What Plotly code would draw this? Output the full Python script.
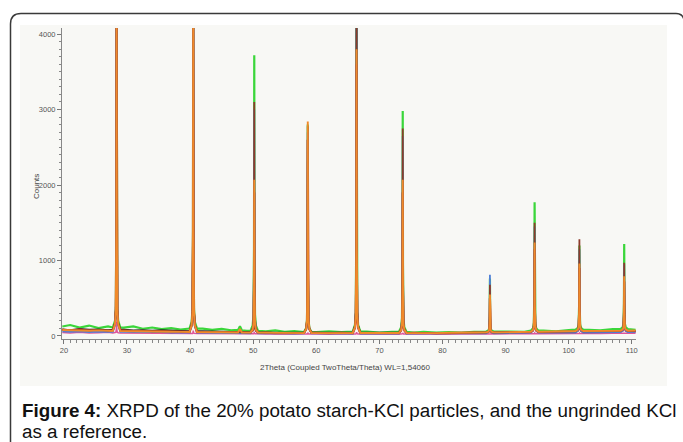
import plotly.graph_objects as go

# ---------------- data ----------------
peak_x = [28.35, 40.5, 50.17, 58.65, 66.38, 73.7, 87.52, 94.6, 101.7, 108.8]

base_x = [19.75, 21, 22.5, 24, 25.5, 27, 29.5, 31, 32.5, 34, 35.5, 37, 38.5, 42, 43.5,
          45, 46.5, 47.6, 47.9, 48.2, 49, 52, 53.5, 55, 56.5, 60, 62, 64, 68, 70, 72, 75.5, 77,
          79, 81, 83, 85, 89, 91, 93, 96, 98, 100, 103, 105, 107, 110.6]

pink_base = [45, 40, 48, 38, 44, 50, 40, 36, 38, 34, 36, 32, 34, 32, 30, 32, 28, 29, 30, 29, 28, 27,
             28, 26, 27, 25, 26, 25, 26, 24, 26, 24, 25, 24, 26, 25, 26, 27, 28, 27, 30, 29,
             32, 33, 34, 35, 36]
pink_peaks = [190, 70, 55, 45, 50, 40, 32, 40, 40, 42]

green_base = [125, 145, 112, 138, 105, 128, 112, 126, 96, 112, 90, 104, 86, 98, 80, 94, 76, 80,
              130, 75, 68, 62, 74, 56, 66, 52, 62, 50, 58, 46, 56, 44, 55, 45, 52, 44, 55, 58,
              64, 56, 70, 62, 78, 84, 74, 92, 82]
green_peaks = [4500, 4500, 3720, 2800, 4500, 2980, 760, 1770, 1200, 1220]

black_base = [90, 80, 95, 85, 88, 78, 85, 75, 80, 72, 78, 70, 68, 65, 62, 60, 55, 55, 56, 55, 50, 48,
              52, 45, 50, 44, 48, 42, 45, 40, 44, 40, 42, 38, 42, 40, 44, 45, 48, 46, 52, 50,
              55, 58, 55, 62, 60]
black_peaks = [4500, 4500, 850, 2600, 4500, 1900, 480, 1100, 900, 700]

red_base = [82, 70, 86, 68, 78, 64, 70, 58, 66, 54, 60, 52, 56, 50, 45, 52, 42, 46, 48, 46, 40, 44,
            38, 42, 36, 40, 35, 40, 36, 42, 35, 40, 36, 42, 38, 40, 44, 40, 46, 42, 50, 48,
            55, 52, 60, 58, 62]
red_peaks = [4500, 4500, 1900, 2600, 3600, 1900, 500, 1150, 900, 720]

blue_base = [60, 55, 62, 52, 58, 50, 55, 48, 52, 46, 50, 44, 46, 44, 40, 44, 38, 39, 40, 39, 36, 38,
             34, 36, 32, 35, 32, 34, 32, 35, 32, 34, 32, 35, 34, 35, 38, 36, 40, 38, 44, 42,
             48, 46, 52, 50, 54]
blue_peaks = [4500, 4500, 3000, 2700, 4500, 2650, 810, 1450, 1150, 950]

brown_base = [85, 78, 82, 74, 80, 70, 76, 66, 70, 62, 66, 60, 60, 56, 52, 55, 48, 49, 50, 49, 45, 44,
              46, 40, 44, 38, 42, 38, 40, 36, 40, 36, 40, 36, 40, 38, 42, 44, 48, 46, 52, 52,
              58, 60, 58, 66, 64]
brown_peaks = [4500, 4500, 3100, 2780, 4500, 2750, 680, 1500, 1280, 970]

orange_base = [80, 75, 72, 70, 74, 68, 66, 64, 60, 62, 58, 56, 55, 52, 50, 48, 46, 46, 95, 46, 44, 42,
               44, 40, 42, 38, 40, 38, 40, 36, 40, 38, 40, 38, 42, 40, 44, 48, 52, 50, 56, 58,
               62, 66, 64, 70, 72]
orange_peaks = [4500, 4500, 2070, 2840, 3800, 2070, 550, 1240, 960, 790]

x_ticks = [20, 30, 40, 50, 60, 70, 80, 90, 100, 110]
y_ticks = [0, 1000, 2000, 3000, 4000]

x_title = "2Theta (Coupled TwoTheta/Theta) WL=1,54060"
y_title = "Counts"
caption_1 = "<b>Figure 4:</b> XRPD of the 20% potato starch-KCl particles, and the ungrinded KCl"
caption_2 = "as a reference."

# ---------------- style ----------------
W, H = 683, 442
L, R, T, B = 62, 636, 28, 339          # plot area in pixels
X_RANGE = [19.7, 110.67]
Y_RANGE = [-40, 4080]

# peak profile (shape of a diffraction line: offsets in degrees, fraction of height)
PROFILE_DX = [-0.6, -0.25, -0.12, -0.04, 0.0, 0.04, 0.12, 0.25, 0.6]
PROFILE_F = [0.0, 0.02, 0.06, 0.3, 1.0, 0.3, 0.06, 0.02, 0.0]


def series_points(bx, by, px, ph):
    pts = []
    for x, y in zip(bx, by):
        if all(abs(x - p) > 0.65 for p in px):
            pts.append((x, y))
    for p, h in zip(px, ph):
        i = min(range(len(bx)), key=lambda k: abs(bx[k] - p))
        foot = by[i]
        for dx, f in zip(PROFILE_DX, PROFILE_F):
            pts.append((p + dx, foot + f * (h - foot)))
    pts.sort()
    return [q[0] for q in pts], [q[1] for q in pts]


series = [
    ("pink", pink_base, pink_peaks, "#e0559a", 1.5),
    ("green", green_base, green_peaks, "#3ad63a", 2.2),
    ("black", black_base, black_peaks, "#2a2a2a", 1.6),
    ("red", red_base, red_peaks, "#e02424", 2.2),
    ("blue", blue_base, blue_peaks, "#4f7fd6", 1.8),
    ("brown", brown_base, brown_peaks, "#8c3b2b", 1.8),
    ("orange", orange_base, orange_peaks, "#f08a2a", 1.9),
]

fig = go.Figure()
for name, by, ph, col, w in series:
    xs, ys = series_points(base_x, by, peak_x, ph)
    fig.add_trace(go.Scatter(x=xs, y=ys, mode="lines", name=name,
                             line=dict(color=col, width=w), hoverinfo="skip"))


def px_x(p):
    return (p - L) / (R - L)


def px_y(p):
    return (B - p) / (B - T)


tick_font = dict(family="Liberation Sans, Arial, sans-serif", size=7.5, color="#555555")
cap_font = dict(family="Liberation Sans, Arial, sans-serif", size=18.8, color="#111111")

fig.update_layout(
    width=W, height=H,
    margin=dict(l=L, r=W - R, t=T, b=H - B, pad=0),
    paper_bgcolor="white",
    plot_bgcolor="rgba(0,0,0,0)",
    showlegend=False,
    xaxis=dict(range=X_RANGE, tickvals=x_ticks, ticks="outside", ticklen=4,
               tickcolor="#777777", showline=True, linecolor="#888888", linewidth=1,
               showgrid=False, zeroline=False, tickfont=tick_font,
               minor=dict(dtick=1, ticks="outside", ticklen=2.5, tickcolor="#888888")),
    yaxis=dict(range=Y_RANGE, tickvals=y_ticks, ticks="outside", ticklen=4,
               tickcolor="#777777", showline=True, linecolor="#888888", linewidth=1,
               showgrid=False, zeroline=False, tickfont=tick_font,
               minor=dict(dtick=100, ticks="outside", ticklen=2.5, tickcolor="#888888")),
    shapes=[
        dict(type="rect", xref="paper", yref="paper", layer="below",
             x0=px_x(20), x1=px_x(667), y0=px_y(386), y1=px_y(25),
             fillcolor="#f8f8f5", line=dict(width=0)),
        dict(type="path", xref="paper", yref="paper", layer="above",
             path=(f"M {px_x(10.5)},{px_y(460)} L {px_x(10.5)},{px_y(24)} "
                   f"Q {px_x(10.5)},{px_y(13.5)} {px_x(21)},{px_y(13.5)} "
                   f"L {px_x(676)},{px_y(13.5)} Q {px_x(684.5)},{px_y(13.5)} {px_x(684.5)},{px_y(24)} "
                   f"L {px_x(684.5)},{px_y(460)}"),
             line=dict(color="#3a3a3a", width=1.5)),
    ],
    annotations=[
        dict(text=y_title, xref="paper", yref="paper", x=px_x(36), y=px_y(187),
             textangle=-90, showarrow=False, xanchor="center", yanchor="middle",
             font=dict(family="Liberation Sans, Arial, sans-serif", size=8, color="#444444")),
        dict(text=x_title, xref="paper", yref="paper", x=px_x(345), y=px_y(367),
             showarrow=False, xanchor="center", yanchor="middle",
             font=dict(family="Liberation Sans, Arial, sans-serif", size=8, color="#444444")),
        dict(text=caption_1, xref="paper", yref="paper", x=px_x(20), y=px_y(410),
             showarrow=False, xanchor="left", yanchor="middle", align="left", font=cap_font),
        dict(text=caption_2, xref="paper", yref="paper", x=px_x(20), y=px_y(431),
             showarrow=False, xanchor="left", yanchor="middle", align="left", font=cap_font),
    ],
)

fig.write_html("out.html")
